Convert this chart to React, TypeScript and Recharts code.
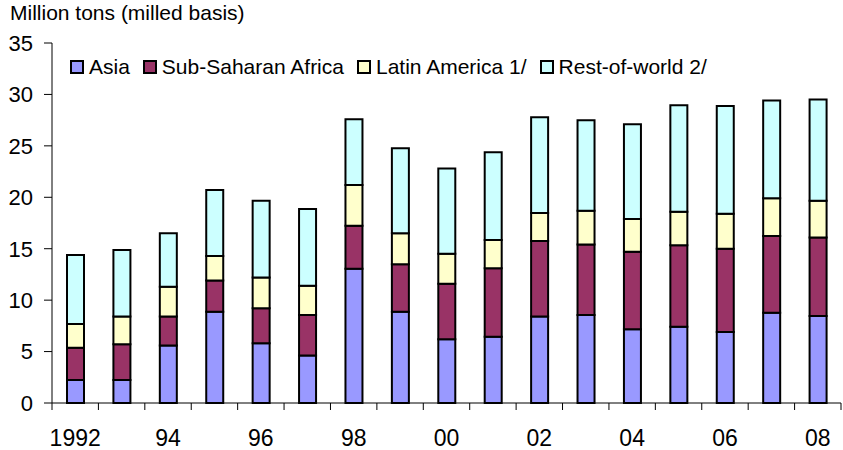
import React from 'react';
import { BarChart, Bar, XAxis, YAxis, Legend } from 'recharts';

const years = ['1992', '1993', '1994', '1995', '1996', '1997', '1998', '1999', '2000', '2001', '2002', '2003', '2004', '2005', '2006', '2007', '2008'];
const yearLabels = ['1992', '', '94', '', '96', '', '98', '', '00', '', '02', '', '04', '', '06', '', '08'];

const asia = [2.24, 2.24, 5.6, 8.88, 5.8, 4.63, 13.06, 8.88, 6.2, 6.45, 8.4, 8.55, 7.16, 7.42, 6.9, 8.78, 8.46];
const subSaharan = [3.14, 3.46, 2.8, 3.02, 3.4, 3.92, 4.18, 4.62, 5.4, 6.65, 7.35, 6.85, 7.54, 7.91, 8.1, 7.46, 7.64];
const latinAmerica = [2.3, 2.7, 2.9, 2.39, 3.0, 2.85, 3.96, 3.0, 2.9, 2.75, 2.72, 3.3, 3.2, 3.27, 3.4, 3.66, 3.57];
const restOfWorld = [6.71, 6.47, 5.2, 6.41, 7.47, 7.46, 6.38, 8.26, 8.3, 8.52, 9.3, 8.8, 9.2, 10.34, 10.47, 9.5, 9.83];

const yTicks = [0, 5, 10, 15, 20, 25, 30, 35];

const SERIES = [
  { key: 'asia', name: 'Asia', color: '#9999ff' },
  { key: 'ssa', name: 'Sub-Saharan Africa', color: '#993366' },
  { key: 'latam', name: 'Latin America 1/', color: '#ffffcc' },
  { key: 'row', name: 'Rest-of-world 2/', color: '#ccffff' },
];

const data = years.map((year, i) => ({
  year,
  label: yearLabels[i],
  asia: asia[i],
  ssa: subSaharan[i],
  latam: latinAmerica[i],
  row: restOfWorld[i],
}));

const FONT = '"Liberation Sans", Arial, sans-serif';
const PLOT_LEFT = 52;
const PLOT_RIGHT = 841;
const BAND = (PLOT_RIGHT - PLOT_LEFT) / years.length;

const YearTick = (props: any) => {
  const { x, y, index } = props;
  const last = index === years.length - 1;
  return (
    <g>
      <line x1={x - BAND / 2} x2={x - BAND / 2} y1={y} y2={y + 7} stroke="#000" strokeWidth={1} />
      {last && <line x1={x + BAND / 2} x2={x + BAND / 2} y1={y} y2={y + 7} stroke="#000" strokeWidth={1} />}
      {yearLabels[index] && (
        <text x={x} y={y + 43} textAnchor="middle" fontSize={23} fontFamily={FONT} fill="#000">
          {yearLabels[index]}
        </text>
      )}
    </g>
  );
};

const renderLegend = () => (
  <div style={{ display: 'flex', alignItems: 'center', height: 24, fontFamily: FONT, fontSize: 21, color: '#000', whiteSpace: 'nowrap' }}>
    {SERIES.map((s) => (
      <div key={s.key} style={{ display: 'flex', alignItems: 'center', marginRight: 13 }}>
        <span style={{ width: 10, height: 10, border: '2px solid #000', background: s.color, marginRight: 5, display: 'inline-block' }} />
        <span>{s.name}</span>
      </div>
    ))}
  </div>
);

export default function App() {
  return (
    <div style={{ position: 'absolute', left: 0, top: 0, width: 843, height: 450, background: '#fff' }}>
      <div style={{ position: 'absolute', left: 10, top: 2, fontFamily: FONT, fontSize: 21, lineHeight: '21px', color: '#000', whiteSpace: 'nowrap' }}>
        Million tons (milled basis)
      </div>
      <BarChart width={843} height={450} data={data} margin={{ top: 43, right: 2, left: 0, bottom: 0 }} barSize={17}>
        <XAxis xAxisId="top" orientation="top" dataKey="year" height={0} tick={false} tickLine={false} axisLine={{ stroke: '#999', strokeWidth: 2.5 }} />
        <YAxis yAxisId="right" orientation="right" width={0} tick={false} tickLine={false} axisLine={{ stroke: '#999', strokeWidth: 2.5 }} domain={[0, 35]} />
        <XAxis
          dataKey="year"
          height={47}
          tickSize={0}
          tickMargin={0}
          interval={0}
          tickLine={false}
          axisLine={{ stroke: '#000', strokeWidth: 1 }}
          tick={<YearTick />}
        />
        <YAxis
          width={52}
          domain={[0, 35]}
          ticks={yTicks}
          interval={0}
          tickSize={8}
          tickMargin={11}
          axisLine={{ stroke: '#000', strokeWidth: 1 }}
          tickLine={{ stroke: '#000' }}
          tick={{ fontSize: 22, fontFamily: FONT, fill: '#000' }}
        />
        <Legend
          layout="horizontal"
          verticalAlign="middle"
          align="center"
          content={renderLegend}
          wrapperStyle={{ top: 55, left: 70, width: 'auto' }}
        />
        {SERIES.map((s) => (
          <Bar
            key={s.key}
            dataKey={s.key}
            name={s.name}
            stackId="a"
            fill={s.color}
            stroke="#000"
            strokeWidth={2}
            isAnimationActive={false}
          />
        ))}
      </BarChart>
    </div>
  );
}
